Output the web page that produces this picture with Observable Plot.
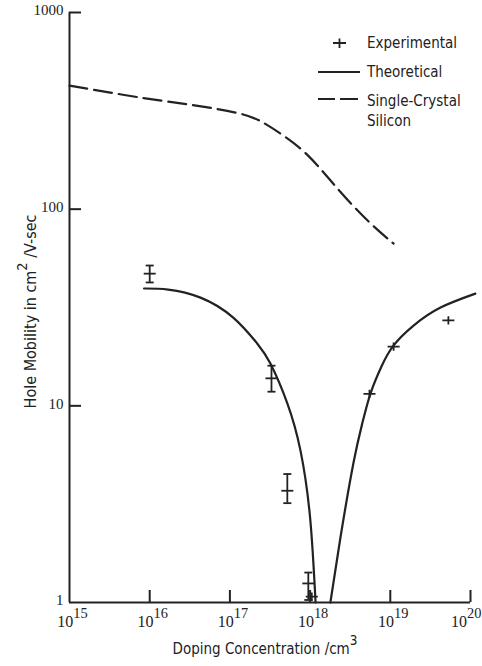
<!DOCTYPE html>
<html>
<head>
<meta charset="utf-8">
<script src="https://cdn.jsdelivr.net/npm/d3@7"></script>
<script src="https://cdn.jsdelivr.net/npm/@observablehq/plot@0.6"></script>
<style>
  body { margin: 0; background: #fff; }
  #chart { position: relative; width: 482px; height: 666px; overflow: hidden; }
  #chart svg.plot { display: block; }
  #legend { position: absolute; left: 0; top: 0; pointer-events: none; }
  #legend text { font-family: "DejaVu Sans Condensed", "DejaVu Sans", sans-serif; font-size: 15px; fill: #222; }
</style>
</head>
<body>
<div id="chart"></div>
<script>
// Hole mobility in polycrystalline silicon vs. doping concentration

// Experimental points (cm^-3, cm^2/V-sec) with error limits where measured
const expConc     = [1.0e16, 3.3e17, 5.2e17, 9.5e17, 1.05e18, 5.5e18, 1.1e19, 5.3e19];
const expMobility = [47, 13.8, 3.7, 1.25, 1.07, 11.5, 20, 27.2];
const expLow      = [42.4, 11.8, 3.2, 1.03, null, null, null, null];
const expHigh     = [51.7, 16.0, 4.5, 1.42, null, null, null, null];

// Theoretical curve, falling branch and rising branch
const theoryLowConc  = [8.5e15, 1.7e16, 4.3e16, 1.1e17, 2.2e17, 3.2e17, 5.2e17, 7.6e17, 1.0e18, 1.17e18];
const theoryLowMob   = [39.5, 39, 35.5, 28.1, 20.7, 16.4, 10.3, 5.9, 2.7, 1.0];
const theoryHighConc = [1.79e18, 2.39e18, 3.48e18, 4.5e18, 5.66e18, 7.76e18, 1.1e19, 1.95e19, 4.23e19, 1.15e20];
const theoryHighMob  = [1.0, 2.14, 5.15, 8.22, 11.55, 15.85, 20.3, 25.6, 31.6, 37.2];

// Single-crystal silicon reference
const crystalConc = [1e15, 1e16, 3.5e16, 1.5e17, 2.4e17, 4.7e17, 9.3e17, 1.7e18, 4.7e18, 1.1e19];
const crystalMob  = [425, 361, 340, 306, 283, 237, 192, 143, 89.6, 66.8];

// Axis ticks and labels
const xTicks = [1e15, 1e16, 1e17, 1e18, 1e19, 1e20];
const xTickLabels = ["10^15", "10^16", "10^17", "10^18", "10^19", "10^20"];
const yTicks = [1, 10, 100, 1000];
const yTickLabels = ["1", "10", "100", "1000"];
const xTitle = "Doping Concentration /cm^3";
const yTitle = "Hole Mobility in cm^2 /V-sec";
const legendLabels = ["Experimental", "Theoretical", "Single-Crystal", "Silicon"];

const ink = "#222";

const experimental = expConc.map((c, i) => ({c, m: expMobility[i], lo: expLow[i], hi: expHigh[i]}));
const withErrors = experimental.filter(d => d.lo != null);
const plain = experimental.filter(d => d.lo == null);
const theoryLow = theoryLowConc.map((c, i) => ({c, m: theoryLowMob[i]}));
const theoryHigh = theoryHighConc.map((c, i) => ({c, m: theoryHighMob[i]}));
const crystal = crystalConc.map((c, i) => ({c, m: crystalMob[i]}));

// Stroke-only symbols: a horizontal bar and a flattened plus
const hbar = {draw(ctx, size) { const r = Math.sqrt(size / Math.PI); ctx.moveTo(-r, 0); ctx.lineTo(r, 0); }};
const plus = {draw(ctx, size) { const r = Math.sqrt(size / Math.PI); ctx.moveTo(-r, 0); ctx.lineTo(r, 0); ctx.moveTo(0, -0.7 * r); ctx.lineTo(0, 0.7 * r); }};

const serif = "Liberation Serif, Times New Roman, serif";
const sans = "DejaVu Sans Condensed, DejaVu Sans, sans-serif";
const lastTick = xTicks.length - 1;

const svg = Plot.plot({
  width: 482,
  height: 666,
  marginLeft: 69,
  marginRight: 12,
  marginTop: 12,
  marginBottom: 64,
  style: {background: "#fff", color: ink},
  x: {type: "log", domain: [1e15, 1e20], label: null},
  y: {type: "log", domain: [1, 1000], label: null},
  marks: [
    // axis lines
    Plot.ruleX([1e15], {stroke: ink, strokeWidth: 2}),
    Plot.ruleY([1], {stroke: ink, strokeWidth: 2}),
    // inward tick marks
    Plot.axisX({ticks: xTicks.slice(1), tickSize: -12, tickFormat: () => "", stroke: ink, strokeWidth: 2}),
    Plot.axisY({ticks: yTicks.slice(1), tickSize: -12, tickFormat: () => "", stroke: ink, strokeWidth: 2}),
    // tick labels (the last one is kept inside the right edge)
    Plot.text(xTicks.slice(0, lastTick), {x: d => d, frameAnchor: "bottom", text: (d, i) => xTickLabels[i],
      dy: 24, dx: 3, fontFamily: serif, fontSize: 16, fill: ink}),
    Plot.text([xTicks[lastTick]], {x: d => d, frameAnchor: "bottom", text: () => xTickLabels[lastTick],
      textAnchor: "end", dy: 24, dx: 11, fontFamily: serif, fontSize: 16, fill: ink}),
    Plot.text(yTicks, {y: d => d, frameAnchor: "left", text: (d, i) => yTickLabels[i],
      textAnchor: "end", dx: -6, dy: -2, fontFamily: serif, fontSize: 15, fill: ink}),
    // axis titles
    Plot.text([xTitle], {frameAnchor: "bottom", text: d => d, dy: 51, dx: -5,
      fontFamily: sans, fontSize: 15, fill: ink}),
    Plot.text([yTitle], {frameAnchor: "left", text: d => d, rotate: -90, textAnchor: "middle",
      dx: -39, dy: 4, fontFamily: sans, fontSize: 16, fill: ink}),
    // single-crystal silicon
    Plot.line(crystal, {x: "c", y: "m", curve: "basis", stroke: ink, strokeWidth: 2.2,
      strokeDasharray: "18,7"}),
    // theory
    Plot.line(theoryLow, {x: "c", y: "m", curve: "natural", stroke: ink, strokeWidth: 2.2}),
    Plot.line(theoryHigh, {x: "c", y: "m", curve: "natural", stroke: ink, strokeWidth: 2.2}),
    // experiment: error bars with caps, crossbar at the value
    Plot.ruleX(withErrors, {x: "c", y1: "lo", y2: "hi", stroke: ink, strokeWidth: 1.8}),
    Plot.dot(withErrors, {x: "c", y: "lo", symbol: hbar, r: 4, stroke: ink, strokeWidth: 1.8, fill: "none"}),
    Plot.dot(withErrors, {x: "c", y: "hi", symbol: hbar, r: 4, stroke: ink, strokeWidth: 1.8, fill: "none"}),
    Plot.dot(withErrors, {x: "c", y: "m", symbol: hbar, r: 6, stroke: ink, strokeWidth: 1.8, fill: "none"}),
    Plot.dot(plain, {x: "c", y: "m", symbol: plus, r: 6, stroke: ink, strokeWidth: 1.8, fill: "none"})
  ]
});

// Turn "^n" in labels into raised exponents
d3.select(svg).selectAll("text").each(function () {
  const t = this.textContent;
  if (!t.includes("^")) return;
  const m = t.match(/^(.*?)\^(\d+)(.*)$/);
  const el = d3.select(this);
  el.text(null);
  el.append("tspan").text(m[1]);
  el.append("tspan").attr("dy", "-0.6em").attr("font-size", "0.9em").text(m[2]);
  if (m[3]) el.append("tspan").attr("dy", "0.55em").text(m[3]);
});

const chart = document.getElementById("chart");
chart.append(svg);

// Legend in the upper right of the plot area
const legend = d3.select(chart).append("svg").attr("id", "legend").attr("width", 482).attr("height", 140);
const lg = legend.append("g").attr("stroke", ink).attr("stroke-width", 2).attr("fill", "none");
lg.append("path").attr("d", "M333,43H346M339.5,38.5V48").attr("stroke-width", 1.8);
lg.append("path").attr("d", "M318,72H360");
lg.append("path").attr("d", "M318,99H335M340,99H358");
const lt = legend.append("g");
lt.append("text").attr("x", 367).attr("y", 48).text(legendLabels[0]);
lt.append("text").attr("x", 367).attr("y", 77).text(legendLabels[1]);
lt.append("text").attr("x", 367).attr("y", 106).text(legendLabels[2]);
lt.append("text").attr("x", 367).attr("y", 126).text(legendLabels[3]);
</script>
</body>
</html>
